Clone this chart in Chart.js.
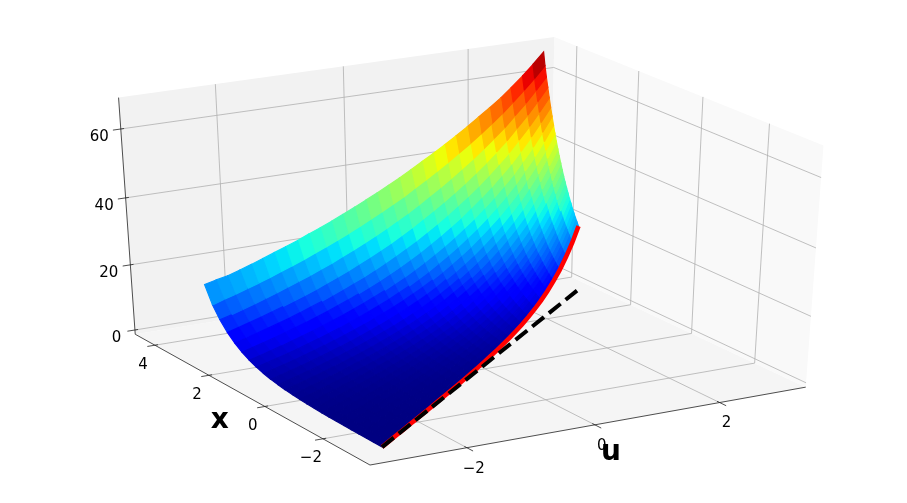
<!DOCTYPE html>
<html>
<head>
<meta charset="utf-8">
<style>body{margin:0;background:#fff}</style>
<script src="https://cdn.jsdelivr.net/npm/chart.js@4/dist/chart.umd.js"></script>
</head>
<body>
<canvas id="chart" width="907" height="503"></canvas>
<script>
const uTicks = [-2, 0, 2];
const xTicks = [-2, 0, 2, 4];
const zTicks = [0, 20, 40, 60];
const uLim = [-3.48, 3.41];
const xLim = [-3.57, 4.746];
const zLim = [-1.33, 68.93];

// surface grid: one row per u, x runs from u up to xTop at the given fractions
const uValues = [-3.06, -2.86, -2.66, -2.45, -2.25, -2.05, -1.85, -1.65, -1.44, -1.24, -1.04, -0.84, -0.64, -0.43, -0.23, -0.03, 0.17, 0.37, 0.58, 0.78, 0.98, 1.18, 1.38, 1.59, 1.79, 1.99, 2.19, 2.39, 2.6, 2.8, 3];
const xTop = [2.99, 3.03, 3.07, 3.11, 3.15, 3.19, 3.23, 3.27, 3.31, 3.35, 3.39, 3.43, 3.47, 3.51, 3.55, 3.59, 3.63, 3.67, 3.72, 3.76, 3.8, 3.84, 3.88, 3.92, 3.96, 4, 4.04, 4.1, 4.15, 4.21, 4.27];
const wFractions = [0, 0.042, 0.083, 0.125, 0.167, 0.208, 0.25, 0.292, 0.333, 0.375, 0.417, 0.458, 0.5, 0.542, 0.583, 0.625, 0.667, 0.708, 0.75, 0.792, 0.833, 0.875, 0.917, 0.958, 1];
const zTable = [
  [0.05,0.06,0.08,0.10,0.13,0.17,0.21,0.27,0.35,0.45,0.58,0.75,0.96,1.24,1.60,2.05,2.64,3.40,4.38,5.63,7.24,9.32,12.0,15.4,20.4],
  [0.06,0.07,0.09,0.12,0.15,0.20,0.25,0.32,0.41,0.52,0.67,0.85,1.09,1.39,1.78,2.27,2.90,3.71,4.74,6.06,7.74,9.89,12.6,16.2,21.0],
  [0.07,0.09,0.11,0.14,0.18,0.23,0.29,0.37,0.47,0.60,0.76,0.97,1.23,1.56,1.98,2.51,3.19,4.04,5.13,6.52,8.28,10.5,13.3,16.9,21.5],
  [0.09,0.11,0.14,0.17,0.22,0.27,0.35,0.44,0.55,0.69,0.88,1.10,1.39,1.75,2.21,2.79,3.51,4.43,5.58,7.04,8.88,11.2,14.1,17.8,22.4],
  [0.11,0.13,0.17,0.21,0.26,0.32,0.41,0.51,0.64,0.80,1.00,1.25,1.57,1.96,2.46,3.08,3.86,4.83,6.05,7.58,9.49,11.9,14.9,18.6,23.3],
  [0.13,0.16,0.20,0.25,0.31,0.38,0.48,0.59,0.74,0.92,1.14,1.42,1.77,2.20,2.74,3.40,4.23,5.27,6.55,8.15,10.1,12.6,15.7,19.5,24.3],
  [0.16,0.19,0.24,0.30,0.37,0.45,0.56,0.69,0.85,1.06,1.31,1.61,1.99,2.46,3.04,3.76,4.65,5.75,7.10,8.77,10.8,13.4,16.6,20.5,25.3],
  [0.19,0.24,0.29,0.36,0.44,0.54,0.66,0.81,0.99,1.22,1.49,1.83,2.25,2.76,3.39,4.16,5.10,6.27,7.69,9.44,11.6,14.2,17.5,21.4,26.3],
  [0.24,0.29,0.35,0.43,0.52,0.64,0.78,0.95,1.15,1.41,1.72,2.09,2.55,3.11,3.79,4.62,5.63,6.86,8.36,10.2,12.4,15.1,18.5,22.5,27.4],
  [0.29,0.35,0.42,0.51,0.62,0.75,0.91,1.10,1.34,1.62,1.96,2.37,2.87,3.48,4.22,5.10,6.18,7.48,9.06,11.0,13.3,16.1,19.5,23.6,28.6],
  [0.35,0.43,0.51,0.62,0.74,0.89,1.07,1.29,1.55,1.86,2.24,2.69,3.24,3.90,4.69,5.64,6.78,8.16,9.82,11.8,14.2,17.1,20.5,24.7,29.7],
  [0.43,0.52,0.62,0.74,0.88,1.05,1.26,1.50,1.79,2.14,2.56,3.06,3.65,4.37,5.22,6.23,7.45,8.90,10.6,12.7,15.2,18.1,21.7,25.9,30.9],
  [0.53,0.63,0.74,0.88,1.05,1.24,1.47,1.75,2.08,2.46,2.93,3.47,4.12,4.89,5.80,6.89,8.18,9.71,11.5,13.7,16.2,19.3,22.9,27.1,32.2],
  [0.65,0.77,0.90,1.07,1.26,1.48,1.74,2.06,2.42,2.85,3.36,3.97,4.67,5.51,6.49,7.65,9.02,10.6,12.5,14.8,17.4,20.5,24.2,28.5,33.6],
  [0.79,0.93,1.09,1.28,1.49,1.75,2.05,2.40,2.80,3.28,3.84,4.50,5.27,6.17,7.22,8.46,9.90,11.6,13.6,15.9,18.6,21.8,25.5,29.9,35.0],
  [0.97,1.13,1.31,1.53,1.78,2.06,2.40,2.79,3.25,3.78,4.39,5.11,5.94,6.91,8.04,9.35,10.9,12.6,14.7,17.1,19.9,23.1,26.9,31.3,36.4],
  [1.19,1.37,1.58,1.83,2.11,2.44,2.82,3.26,3.76,4.34,5.02,5.80,6.70,7.74,8.94,10.3,11.9,13.8,15.9,18.4,21.3,24.6,28.4,32.8,37.9],
  [1.45,1.66,1.91,2.19,2.51,2.88,3.31,3.79,4.36,5.00,5.74,6.58,7.55,8.67,9.95,11.4,13.1,15.0,17.3,19.8,22.7,26.1,29.9,34.3,39.4],
  [1.79,2.04,2.32,2.64,3.01,3.43,3.91,4.46,5.08,5.79,6.60,7.52,8.57,9.76,11.1,12.7,14.4,16.5,18.8,21.4,24.4,27.8,31.6,36.1,41.1],
  [2.18,2.47,2.80,3.16,3.58,4.06,4.59,5.20,5.88,6.66,7.54,8.53,9.66,10.9,12.4,14.0,15.9,18.0,20.3,23.0,26.0,29.5,33.4,37.8,42.8],
  [2.66,3.00,3.37,3.79,4.26,4.79,5.39,6.06,6.81,7.66,8.61,9.69,10.9,12.2,13.8,15.5,17.4,19.6,22.0,24.8,27.8,31.3,35.2,39.6,44.5],
  [3.25,3.64,4.06,4.54,5.07,5.66,6.32,7.06,7.89,8.81,9.84,11.0,12.3,13.7,15.3,17.1,19.1,21.4,23.9,26.6,29.8,33.2,37.1,41.5,46.3],
  [3.97,4.41,4.89,5.43,6.03,6.69,7.42,8.23,9.13,10.1,11.2,12.5,13.8,15.4,17.0,18.9,21.0,23.3,25.8,28.7,31.8,35.3,39.2,43.5,48.2],
  [4.90,5.40,5.95,6.56,7.23,7.96,8.78,9.67,10.7,11.7,12.9,14.3,15.7,17.3,19.1,21.0,23.2,25.5,28.1,31.0,34.1,37.6,41.4,45.6,50.3],
  [5.99,6.56,7.18,7.85,8.60,9.41,10.3,11.3,12.3,13.5,14.8,16.2,17.7,19.4,21.2,23.2,25.4,27.8,30.4,33.3,36.5,39.9,43.7,47.8,52.4],
  [7.32,7.95,8.65,9.40,10.2,11.1,12.1,13.1,14.3,15.5,16.9,18.4,20.0,21.7,23.6,25.7,27.9,30.3,33.0,35.9,39.0,42.4,46.1,50.1,54.5],
  [8.94,9.65,10.4,11.3,12.2,13.1,14.2,15.3,16.5,17.9,19.3,20.8,22.5,24.3,26.3,28.4,30.6,33.1,35.7,38.6,41.7,45.0,48.6,52.5,56.7],
  [10.9,11.7,12.6,13.5,14.5,15.5,16.6,17.9,19.2,20.6,22.1,23.7,25.4,27.2,29.2,31.3,33.6,36.1,38.7,41.5,44.6,47.8,51.3,55.0,59.0],
  [13.5,14.3,15.3,16.3,17.3,18.5,19.7,21.0,22.3,23.8,25.4,27.0,28.8,30.7,32.7,34.8,37.1,39.5,42.1,44.9,47.8,50.9,54.2,57.8,61.7],
  [16.4,17.4,18.4,19.5,20.6,21.8,23.1,24.5,25.9,27.4,29.0,30.7,32.5,34.4,36.4,38.5,40.7,43.1,45.6,48.3,51.1,54.1,57.2,60.5,64.4],
  [20.1,21.1,22.2,23.3,24.5,25.8,27.1,28.5,30.0,31.5,33.1,34.8,36.6,38.5,40.4,42.5,44.7,47.0,49.4,51.9,54.6,57.4,60.3,63.4,67.3]
];

const elev = 30 * Math.PI / 180, azim = -120 * Math.PI / 180, dist = 10;
const camR = [-Math.sin(azim), Math.cos(azim), 0];
const camUp = [-Math.sin(elev) * Math.cos(azim), -Math.sin(elev) * Math.sin(azim), Math.cos(elev)];
const camN = [Math.cos(elev) * Math.cos(azim), Math.cos(elev) * Math.sin(azim), Math.sin(elev)];
const dot = (a, b) => a[0] * b[0] + a[1] * b[1] + a[2] * b[2];

function toBox(u, x, z) {
  return [(u - uLim[0]) / (uLim[1] - uLim[0]) - 0.5, (x - xLim[0]) / (xLim[1] - xLim[0]) - 0.5, (z - zLim[0]) / (zLim[1] - zLim[0]) - 0.5];
}
function project(u, x, z) {
  const p = toBox(u, x, z);
  const f = 1 / (1 - dot(p, camN) / dist);
  return { x: 465.3 + 503 * dot(p, camR) * f, y: 243.7 - 276 * dot(p, camUp) * f };
}

function lerpTable(t, stops) {
  for (let i = 1; i < stops.length; i++) {
    if (t <= stops[i][0]) {
      const a = stops[i - 1], b = stops[i];
      return a[1] + (b[1] - a[1]) * (t - a[0]) / (b[0] - a[0]);
    }
  }
  return stops[stops.length - 1][1];
}
function jet(t) {
  const r = lerpTable(t, [[0, 0], [0.35, 0], [0.66, 1], [0.89, 1], [1, 0.5]]);
  const g = lerpTable(t, [[0, 0], [0.125, 0], [0.375, 1], [0.64, 1], [0.91, 0], [1, 0]]);
  const b = lerpTable(t, [[0, 0.5], [0.11, 1], [0.34, 1], [0.65, 0], [1, 0]]);
  return `rgb(${Math.round(r * 255)},${Math.round(g * 255)},${Math.round(b * 255)})`;
}

const datasets = [];
function addPolygon(points, color, border) {
  datasets.push({ data: points, showLine: true, fill: 'shape', backgroundColor: color, borderColor: color, borderWidth: border, pointRadius: 0 });
}
function addLine(points, color, width, dash) {
  datasets.push({ data: points, showLine: true, fill: false, borderColor: color, borderWidth: width, borderDash: dash || [], pointRadius: 0 });
}

// panes
const [u0, u1] = uLim, [x0, x1] = xLim, [z0, z1] = zLim;
addPolygon([project(u0, x0, z0), project(u1, x0, z0), project(u1, x1, z0), project(u0, x1, z0), project(u0, x0, z0)], '#f5f5f5', 0);
addPolygon([project(u0, x1, z0), project(u1, x1, z0), project(u1, x1, z1), project(u0, x1, z1), project(u0, x1, z0)], '#f2f2f2', 0);
addPolygon([project(u1, x0, z0), project(u1, x1, z0), project(u1, x1, z1), project(u1, x0, z1), project(u1, x0, z0)], '#f9f9f9', 0);

// grid
const gridColor = '#b0b0b0';
uTicks.forEach(u => addLine([project(u, x0, z0), project(u, x1, z0), project(u, x1, z1)], gridColor, 0.8));
xTicks.forEach(x => addLine([project(u0, x, z0), project(u1, x, z0), project(u1, x, z1)], gridColor, 0.8));
zTicks.forEach(z => addLine([project(u0, x1, z), project(u1, x1, z), project(u1, x0, z)], gridColor, 0.8));

// axes and ticks
const axisColor = '#222222';
addLine([project(u0, x0, z0), project(u1, x0, z0)], axisColor, 0.8);
addLine([project(u0, x0, z0), project(u0, x1, z0)], axisColor, 0.8);
addLine([project(u0, x1, z0), project(u0, x1, z1)], axisColor, 0.8);
uTicks.forEach(u => addLine([project(u, x0 + 0.08, z0), project(u, x0 - 0.2, z0)], axisColor, 0.8));
xTicks.forEach(x => addLine([project(u0 + 0.05, x, z0), project(u0 - 0.12, x, z0)], axisColor, 0.8));
zTicks.forEach(z => addLine([project(u0 + 0.05, x1, z), project(u0 - 0.12, x1, z)], axisColor, 0.8));

// surface facets, far ones first
const zMax = Math.max(...zTable.flat());
const facets = [];
const xAt = (i, j) => uValues[i] + wFractions[j] * (xTop[i] - uValues[i]);
for (let i = 0; i < uValues.length - 1; i++) {
  for (let j = 0; j < wFractions.length - 1; j++) {
    const corners = [[i, j], [i + 1, j], [i + 1, j + 1], [i, j + 1]];
    let zSum = 0, depth = 0;
    const pts = corners.map(([a, b]) => {
      zSum += zTable[a][b];
      depth += dot(toBox(uValues[a], xAt(a, b), zTable[a][b]), camN);
      return project(uValues[a], xAt(a, b), zTable[a][b]);
    });
    pts.push(pts[0]);
    facets.push({ pts, depth, color: jet(zSum / 4 / zMax) });
  }
}
facets.sort((a, b) => a.depth - b.depth).forEach(f => addPolygon(f.pts, f.color, 1.2));

// boundary curve and its base line
addLine(uValues.map((u, i) => project(u, u, zTable[i][0])), '#ff0000', 4.5);
addLine([project(uValues[0], uValues[0], 0), project(uValues[30], uValues[30], 0)], '#000000', 4, [15, 6.4]);

const labelPlugin = {
  id: 'axisText',
  afterDraw(chart) {
    const { ctx, scales } = chart;
    const put = (text, p, dx, dy) => ctx.fillText(text, scales.x.getPixelForValue(p.x) + dx, scales.y.getPixelForValue(p.y) + dy);
    const fmt = v => String(v).replace('-', '\u2212');
    ctx.save();
    ctx.fillStyle = '#000';
    ctx.textAlign = 'center';
    ctx.textBaseline = 'middle';
    ctx.font = '15px "DejaVu Sans"';
    uTicks.forEach(u => put(fmt(u), project(u, x0, z0), 7, 21));
    xTicks.forEach(x => put(fmt(x), project(u0, x, z0), -12, 19.5));
    zTicks.forEach(z => put(fmt(z), project(u0, x1, z), z ? -21.5 : -18.5, 8.5));
    ctx.font = 'bold 28px "DejaVu Sans"';
    put('x', project(u0, 0, z0), -45, 14);
    put('u', project(0, x0, z0), 16, 28);
    ctx.restore();
  }
};

new Chart(document.getElementById('chart'), {
  type: 'scatter',
  data: { datasets: datasets.reverse() },
  plugins: [labelPlugin],
  options: {
    responsive: false,
    animation: false,
    layout: { padding: 0 },
    plugins: { legend: { display: false }, tooltip: { enabled: false } },
    scales: {
      x: { display: false, min: 0, max: 907 },
      y: { display: false, min: 0, max: 503, reverse: true }
    }
  }
});
</script>
</body>
</html>
